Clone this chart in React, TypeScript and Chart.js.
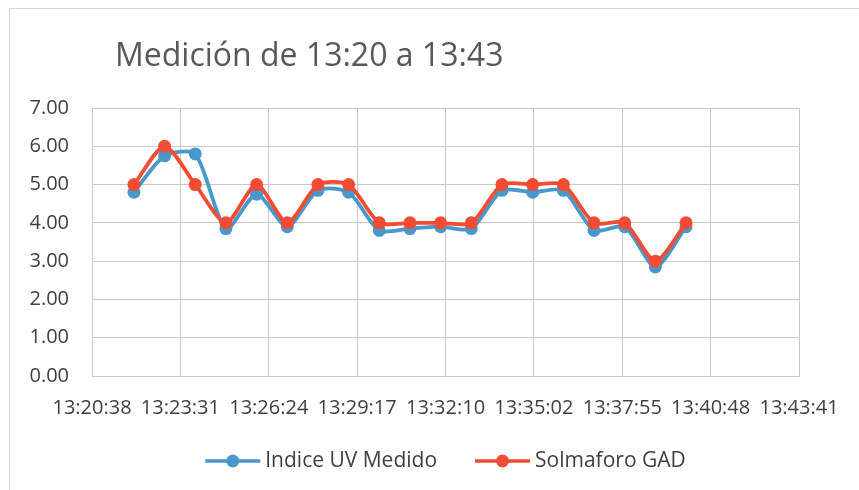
import React, { useEffect, useRef } from "react";
import { Chart, registerables } from "chart.js";

Chart.register(...registerables);

const TITLE = "Medición de 13:20 a 13:43";
const SERIES_NAMES = ["Indice UV Medido", "Solmaforo GAD"];
// measurement times (hh:mm)
const TIMES = [
  "13:22", "13:23", "13:24", "13:25", "13:26", "13:27", "13:28", "13:29", "13:30", "13:31",
  "13:32", "13:33", "13:34", "13:35", "13:36", "13:37", "13:38", "13:39", "13:40",
];
const UV_MEDIDO = [4.8, 5.75, 5.8, 3.85, 4.75, 3.9, 4.85, 4.8, 3.8, 3.85, 3.9, 3.85, 4.85, 4.8, 4.85, 3.8, 3.9, 2.85, 3.9];
const SOLMAFORO = [5, 6, 5, 4, 5, 4, 5, 5, 4, 4, 4, 4, 5, 5, 5, 4, 4, 3, 4];
const X_MIN = "13:20:38";
const X_MAX = "13:43:41";
const X_DIVISIONS = 8;
const Y_MIN = 0;
const Y_MAX = 7;
const Y_STEP = 1;

const BLUE = "rgb(72,152,202)";
const RED = "rgb(242,76,52)";
const COLORS = [BLUE, RED];
const FONT = "'Open Sans', sans-serif";

function toSec(t: string): number {
  const p = t.split(":").map(Number);
  return p[0] * 3600 + p[1] * 60 + (p[2] || 0);
}
function fmt(s: number): string {
  const r = Math.round(s);
  const h = Math.floor(r / 3600);
  const m = Math.floor((r % 3600) / 60);
  const sec = r % 60;
  const pad = (n: number) => String(n).padStart(2, "0");
  return `${h}:${pad(m)}:${pad(sec)}`;
}

export default function App() {
  const ref = useRef<HTMLCanvasElement>(null);

  useEffect(() => {
    if (!ref.current) return;
    const xMin = toSec(X_MIN);
    const xMax = toSec(X_MAX);
    const step = (xMax - xMin) / X_DIVISIONS;
    const xs = TIMES.map(toSec);

    const decorPlugin = {
      id: "decor",
      afterDraw(chart: any) {
        const ctx = chart.ctx;
        ctx.save();
        // title
        ctx.font = `32px ${FONT}`;
        ctx.fillStyle = "#595959";
        ctx.textBaseline = "alphabetic";
        ctx.textAlign = "left";
        ctx.fillText(TITLE, 115, 66);
        // legend
        const iconW = 55;
        const gapIcon = 5;
        const gapItem = 38;
        ctx.font = `21px ${FONT}`;
        const widths = SERIES_NAMES.map((n) => ctx.measureText(n).width);
        const total = widths.reduce((a, w) => a + iconW + gapIcon + w, 0) + gapItem * (SERIES_NAMES.length - 1);
        const ca = chart.chartArea;
        let x = (ca.left + ca.right) / 2 - total / 2;
        const y = 461;
        SERIES_NAMES.forEach((name, i) => {
          const c = COLORS[i];
          ctx.strokeStyle = c;
          ctx.lineWidth = 3.5;
          ctx.beginPath();
          ctx.moveTo(x, y);
          ctx.lineTo(x + iconW, y);
          ctx.stroke();
          ctx.fillStyle = c;
          ctx.beginPath();
          ctx.arc(x + iconW / 2, y, 6.5, 0, Math.PI * 2);
          ctx.fill();
          ctx.fillStyle = "#404040";
          ctx.textBaseline = "middle";
          ctx.fillText(name, x + iconW + gapIcon, y);
          x += iconW + gapIcon + widths[i] + gapItem;
        });
        ctx.restore();
      },
    };

    const chart = new Chart(ref.current, {
      type: "line",
      data: {
        datasets: [
          {
            label: SERIES_NAMES[0],
            data: xs.map((x, i) => ({ x, y: UV_MEDIDO[i] })),
            borderColor: BLUE,
            backgroundColor: BLUE,
            borderWidth: 3.8,
            pointRadius: 6.5,
            pointBorderWidth: 0,
            tension: 0.25,
            order: 1,
          },
          {
            label: SERIES_NAMES[1],
            data: xs.map((x, i) => ({ x, y: SOLMAFORO[i] })),
            borderColor: RED,
            backgroundColor: RED,
            borderWidth: 3.8,
            pointRadius: 6.5,
            pointBorderWidth: 0,
            tension: 0.25,
            order: 0,
          },
        ],
      },
      plugins: [decorPlugin],
      options: {
        animation: false,
        responsive: false,
        maintainAspectRatio: false,
        layout: { padding: { top: 108, right: 60, left: 0, bottom: 49 } },
        scales: {
          x: {
            type: "linear",
            min: xMin,
            max: xMax,
            afterBuildTicks(scale: any) {
              const t = [];
              for (let i = 0; i <= X_DIVISIONS; i++) t.push({ value: xMin + i * step });
              scale.ticks = t;
            },
            afterFit(scale: any) {
              scale.height = 65;
            },
            ticks: {
              autoSkip: false,
              maxRotation: 0,
              minRotation: 0,
              padding: 20,
              color: "#404040",
              font: { family: FONT, size: 20 },
              callback: (v: any) => fmt(Number(v)),
            },
            grid: { color: "#c8c8c8", lineWidth: 1, drawTicks: false },
            border: { color: "#c8c8c8", width: 1 },
          },
          y: {
            min: Y_MIN,
            max: Y_MAX,
            afterFit(scale: any) {
              scale.width = 92;
            },
            ticks: {
              stepSize: Y_STEP,
              padding: 23,
              color: "#404040",
              font: { family: FONT, size: 20 },
              callback: (v: any) => Number(v).toFixed(2),
            },
            grid: { color: "#c8c8c8", lineWidth: 1, drawTicks: false },
            border: { color: "#c8c8c8", width: 1 },
          },
        },
        plugins: {
          title: { display: false },
          tooltip: { enabled: false },
          legend: { display: false },
        },
      } as any,
    });
    return () => chart.destroy();
  }, []);

  return (
    <div style={{ position: "fixed", left: 0, top: 0, width: 859, height: 490, background: "#fff", overflow: "hidden" }}>
      <div
        style={{
          position: "absolute",
          left: 9,
          top: 8,
          width: 900,
          height: 600,
          borderLeft: "1.5px solid #d4d4d4",
          borderTop: "1.5px solid #d4d4d4",
        }}
      />
      <canvas ref={ref} width={859} height={490} style={{ position: "absolute", left: 0, top: 0, width: 859, height: 490 }} />
    </div>
  );
}
